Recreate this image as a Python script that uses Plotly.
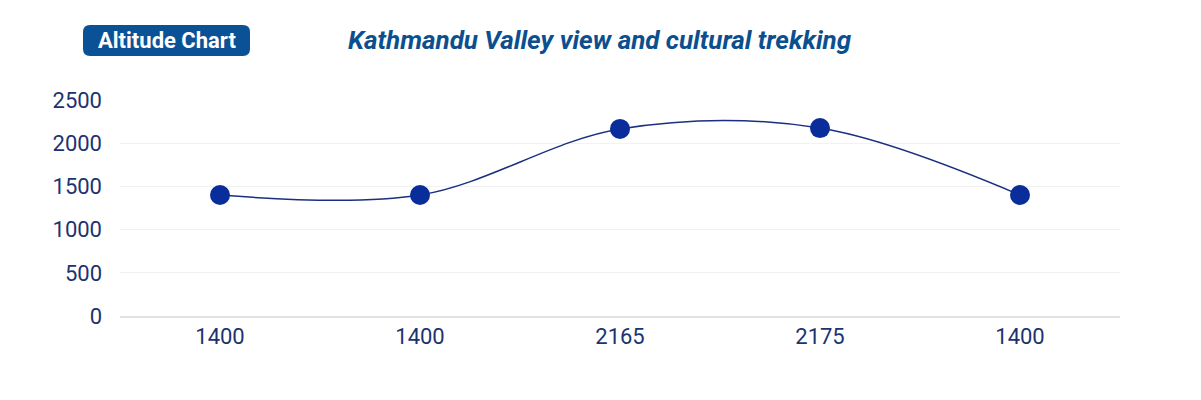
import plotly.graph_objects as go

categories = ["1400", "1400", "2165", "2175", "1400"]
altitudes = [1400, 1400, 2165, 2175, 1400]
y_ticks = [0, 500, 1000, 1500, 2000, 2500]

positions = list(range(len(categories)))

# plot area in page pixels: x 120..1120, y 100..316 (page has 8px body offset)
PW, PH = 1000.0, 216.0


def px_x(p):
    return (p - 120) / PW


def px_y(p):
    return (316 - p) / PH


def rounded_rect(x0, y0, x1, y1, r):
    rx, ry = r / PW, r / PH
    X0, X1 = px_x(x0), px_x(x1)
    Yt, Yb = px_y(y0), px_y(y1)
    return (f"M {X0+rx},{Yt} L {X1-rx},{Yt} Q {X1},{Yt} {X1},{Yt-ry} "
            f"L {X1},{Yb+ry} Q {X1},{Yb} {X1-rx},{Yb} "
            f"L {X0+rx},{Yb} Q {X0},{Yb} {X0},{Yb+ry} "
            f"L {X0},{Yt-ry} Q {X0},{Yt} {X0+rx},{Yt} Z")


fig = go.Figure()
fig.add_trace(go.Scatter(
    x=positions, y=altitudes, mode="lines+markers",
    line=dict(color="#1b2f80", width=1.5, shape="spline", smoothing=1),
    marker=dict(color="#0a2d9c", size=20),
    hoverinfo="y", showlegend=False,
))

fig.update_layout(
    width=1201, height=400,
    margin=dict(l=112, r=89, t=92, b=92),
    paper_bgcolor="white", plot_bgcolor="white",
    font=dict(family="Roboto", color="#1c3370", size=22),
    xaxis=dict(
        tickmode="array", tickvals=positions, ticktext=categories,
        range=[-0.5, len(categories) - 0.5],
        showgrid=False, zeroline=False,
        showline=True, linecolor="#e2e2e2", linewidth=2,
        ticks="", tickfont=dict(size=22, color="#1c3370"),
    ),
    yaxis=dict(
        tickmode="array", tickvals=y_ticks,
        range=[0, 2500],
        showgrid=True, gridcolor="#f2f2f2", gridwidth=1,
        zeroline=False, showline=False, ticks="",
        ticklabelstandoff=17,
        tickfont=dict(size=22, color="#1c3370"),
    ),
    shapes=[dict(
        type="path", xref="paper", yref="paper",
        path=rounded_rect(83, 25, 250, 56, 7),
        fillcolor="#0b5196", line=dict(width=0), layer="above",
    )],
    annotations=[
        dict(text="<b>Altitude Chart</b>", xref="paper", yref="paper",
             x=px_x(166.5), y=px_y(40.5), showarrow=False,
             xanchor="center", yanchor="middle",
             font=dict(family="Roboto", size=22, color="white")),
        dict(text="<b><i>Kathmandu Valley view and cultural trekking</i></b>",
             xref="paper", yref="paper",
             x=px_x(600), y=px_y(40), showarrow=False,
             xanchor="center", yanchor="middle",
             font=dict(family="Roboto", size=26, color="#0b4f8f")),
    ],
)

fig.write_html("out.html")
